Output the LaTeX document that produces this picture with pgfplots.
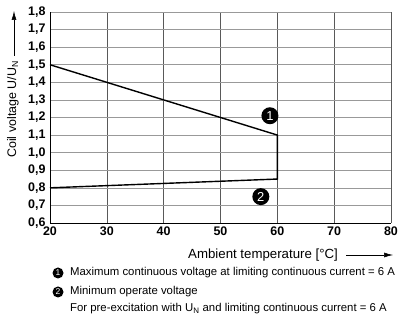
\documentclass[border=0pt]{standalone}
\usepackage{fontspec}
\setmainfont{Liberation Sans}
\usepackage{pgfplots}
\pgfplotsset{compat=1.18}
\usetikzlibrary{arrows.meta}
\begin{document}
\begin{tikzpicture}
\useasboundingbox (0bp,0bp) rectangle (408bp,321bp);
\begin{axis}[
  at={(50bp,98bp)}, anchor=south west,
  scale only axis, width=341bp, height=211bp,
  xmin=20, xmax=80, ymin=0.6, ymax=1.8,
  xtick={20,30,40,50,60,70,80},
  ytick={0.6,0.7,0.8,0.9,1.0,1.1,1.2,1.3,1.4,1.5,1.6,1.7,1.8},
  axis x line*=bottom, axis y line*=left,
  axis line style={-, line width=0.8bp, black},
  major tick length=0pt,
  grid=major,
  x grid style={line width=0.6bp, black!65},
  y grid style={line width=0.6bp, black!40},
  /pgf/number format/.cd, use comma, fixed, fixed zerofill, precision=1, assume math mode=true,
  /pgfplots/.cd,
  yticklabel style={font=\bfseries\fontsize{12.5}{13}\selectfont, xshift=-1bp},
  xticklabel style={font=\bfseries\fontsize{12.5}{13}\selectfont},
  xticklabel={\pgfmathprintnumber[fixed, precision=0]{\tick}},
  clip=false,
]
\addplot[black, line width=1.4bp] coordinates {(20,1.5) (60,1.1) (60,0.85) (20,0.8)};
\node[circle, fill=black, text=white, inner sep=0pt, minimum size=17bp, font=\fontsize{13}{13}\selectfont] at (axis cs:58.7,1.21) {1};
\node[circle, fill=black, text=white, inner sep=0pt, minimum size=17bp, font=\fontsize{13}{13}\selectfont] at (axis cs:57.1,0.75) {2};
\end{axis}
% y label
\node[rotate=90, anchor=west, font=\fontsize{12.5}{14}\selectfont, inner sep=0pt] at (13bp,163bp) {Coil voltage U/U\textsubscript{N}};
\draw[line width=0.6bp, -{Latex[length=9bp,width=5bp]}] (14bp,265bp) -- (14bp,310bp);
% x label
\node[anchor=west, font=\fontsize{13.3}{15}\selectfont, inner sep=0pt] at (188bp,66bp) {Ambient temperature [°C]};
\draw[line width=0.6bp, -{Latex[length=9bp,width=5bp]}] (346bp,66bp) -- (393bp,66bp);
% legend
\node[circle, fill=black, text=white, inner sep=0pt, minimum size=11bp, font=\fontsize{8.5}{8.5}\selectfont] at (58bp,48bp) {1};
\node[anchor=west, font=\fontsize{11.4}{13}\selectfont, inner sep=0pt] at (70bp,48bp) {Maximum continuous voltage at limiting continuous current = 6 A};
\node[circle, fill=black, text=white, inner sep=0pt, minimum size=11bp, font=\fontsize{8.5}{8.5}\selectfont] at (58bp,29bp) {2};
\node[anchor=west, font=\fontsize{11.4}{13}\selectfont, inner sep=0pt] at (70bp,29bp) {Minimum operate voltage};
\node[anchor=west, font=\fontsize{11.4}{13}\selectfont, inner sep=0pt] at (70bp,12bp) {For pre-excitation with U\textsubscript{N} and limiting continuous current = 6 A};
\end{tikzpicture}
\end{document}
